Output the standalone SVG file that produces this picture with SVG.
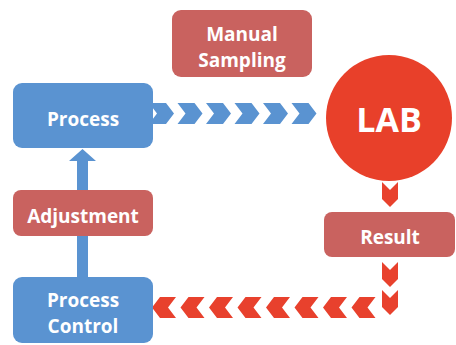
<svg xmlns="http://www.w3.org/2000/svg" width="456" height="345" viewBox="0 0 456 345">
<style>
.blue{fill:#5A93D1}
.rbox{fill:#C9625F}
.chevb{fill:#5A93D1}
.chevr{fill:#E8412D}
.t{font-family:"Open Sans","Liberation Sans",sans-serif;font-weight:bold;fill:#fff;text-anchor:middle}
</style>
<defs>
<polygon id="cb" points="0,0 17,0 25,10.5 17,21 0,21 8,10.5"/>
<polygon id="cl" points="0,10.5 8,0 24,0 16,10.5 24,21 8,21"/>
<polygon id="cd" points="0,0 8,8 16,0 16,17 8,25 0,17"/>
</defs>
<rect width="456" height="345" fill="#fff"/>
<g id="connectors">
<polygon class="blue" points="77,278 77,161 69,161 82.5,149 96,161 88,161 88,278"/>
<g class="chevb">
<use href="#cb" x="149" y="103"/>
<use href="#cb" x="177.5" y="103"/>
<use href="#cb" x="206" y="103"/>
<use href="#cb" x="234.5" y="103"/>
<use href="#cb" x="263" y="103"/>
<use href="#cb" x="291.5" y="103"/>
</g>
<g class="chevr">
<use href="#cd" x="382" y="182"/>
<use href="#cd" x="382" y="262"/>
<use href="#cd" x="382" y="290"/>
<use href="#cl" x="152" y="297"/>
<use href="#cl" x="180.5" y="297"/>
<use href="#cl" x="209" y="297"/>
<use href="#cl" x="237.5" y="297"/>
<use href="#cl" x="266" y="297"/>
<use href="#cl" x="294.5" y="297"/>
<use href="#cl" x="323" y="297"/>
<use href="#cl" x="351.5" y="297"/>
</g>
</g>
<g id="process">
<rect class="blue" x="13" y="83" width="140" height="65" rx="9"/>
<text class="t" x="83" y="126" font-size="19">Process</text>
</g>
<g id="manual-sampling">
<rect class="rbox" x="172" y="10" width="140" height="67" rx="9"/>
<text class="t" x="242" y="41" font-size="19">Manual</text>
<text class="t" x="242" y="67" font-size="19">Sampling</text>
</g>
<g id="lab">
<circle cx="389" cy="118" r="63" fill="#E8402A"/>
<text class="t" x="389" y="132" font-size="34">LAB</text>
</g>
<g id="adjustment">
<rect class="rbox" x="13" y="190" width="140" height="46" rx="8"/>
<text class="t" x="83" y="223" font-size="19">Adjustment</text>
</g>
<g id="result">
<rect class="rbox" x="324" y="212" width="131" height="45" rx="8"/>
<text class="t" x="390" y="244" font-size="19">Result</text>
</g>
<g id="process-control">
<rect class="blue" x="13" y="277" width="140" height="66" rx="9"/>
<text class="t" x="83" y="307" font-size="19">Process</text>
<text class="t" x="83" y="333" font-size="19">Control</text>
</g>
</svg>
